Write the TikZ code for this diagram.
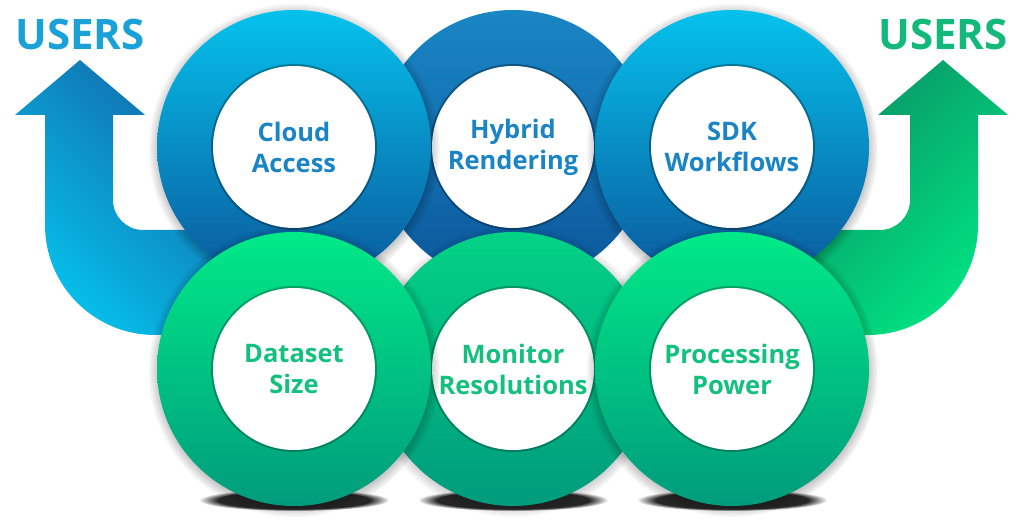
\documentclass[tikz,border=0pt]{standalone}
\usepackage{fontspec}
\setmainfont{Open Sans}
\usetikzlibrary{fadings}

\definecolor{cyanlight}{HTML}{05C2EC}
\definecolor{bluearrow}{HTML}{1460A4}
\definecolor{bluemid}{HTML}{1A86C4}
\definecolor{bluedeep}{HTML}{0B579B}
\definecolor{greenlight}{HTML}{00EA88}
\definecolor{greenmid}{HTML}{03D286}
\definecolor{greendeep}{HTML}{009B7C}
\definecolor{greenarrow}{HTML}{0A8C62}
\definecolor{greenbright}{HTML}{00E482}
\definecolor{bluetext}{HTML}{1A84C4}
\definecolor{greentext}{HTML}{14C07E}
\definecolor{usersblue}{HTML}{1AA2D8}
\definecolor{usersgreen}{HTML}{12B97A}

\begin{document}
\begin{tikzpicture}[x=1pt,y=1pt,
    ringlabel/.style={align=center,font=\bfseries\fontsize{25.5}{31}\selectfont},
    userslabel/.style={anchor=base,font=\bfseries\fontsize{42}{50}\selectfont}]
  \useasboundingbox (0,0) rectangle (1024,532);

  % arrows up to the users
  \shade[top color=bluearrow,bottom color=cyanlight,shading angle=-45]
    (80,472) -- (145,417) -- (113,417) -- (113,332)
    arc[start angle=180,end angle=270,radius=30] -- (260,302) -- (260,197)
    -- (155,197) arc[start angle=270,end angle=180,radius=110]
    -- (45,417) -- (15,417) -- cycle;
  \shade[top color=greenarrow,bottom color=greenbright,shading angle=45]
    (943,472) -- (878,417) -- (910,417) -- (910,332)
    arc[start angle=0,end angle=-90,radius=30] -- (763,302) -- (763,197)
    -- (868,197) arc[start angle=-90,end angle=0,radius=110]
    -- (978,417) -- (1008,417) -- cycle;

  % top row
  \coordinate (cloudc) at (294,385);
  \coordinate (hybridc) at (513,385);
  \coordinate (sdkc) at (732,385);
  \shade[top color=bluemid,bottom color=bluedeep] (hybridc) circle[radius=137];
  \fill[black,opacity=.3] (hybridc) circle[radius=83];
  \fill[white] (hybridc) circle[radius=81];
  \foreach \c in {cloudc,sdkc} {
    \fill[black,opacity=.45,path fading=circle with fuzzy edge 15 percent]
      ([yshift=-2]\c) circle[radius=146];
    \shade[top color=cyanlight,bottom color=bluedeep] (\c) circle[radius=137];
    \fill[black,opacity=.3] (\c) circle[radius=83];
    \fill[white] (\c) circle[radius=81];
  }

  % bottom row
  \coordinate (datasetc) at (294,163);
  \coordinate (monitorc) at (513,163);
  \coordinate (powerc) at (732,163);
  \foreach \c in {datasetc,monitorc,powerc}
    \fill[black,opacity=.85,path fading=circle with fuzzy edge 20 percent]
      ([yshift=-131]\c) ellipse[x radius=95,y radius=11];
  \fill[black,opacity=.35,path fading=circle with fuzzy edge 15 percent]
    ([yshift=-2]monitorc) circle[radius=146];
  \shade[top color=greenmid,bottom color=greendeep] (monitorc) circle[radius=137];
  \fill[black,opacity=.25] (monitorc) circle[radius=83];
  \fill[white] (monitorc) circle[radius=81];
  \foreach \c in {datasetc,powerc} {
    \fill[black,opacity=.45,path fading=circle with fuzzy edge 15 percent]
      ([yshift=-2]\c) circle[radius=146];
    \shade[top color=greenlight,bottom color=greendeep] (\c) circle[radius=137];
    \fill[black,opacity=.25] (\c) circle[radius=83];
    \fill[white] (\c) circle[radius=81];
  }

  % labels
  \node[ringlabel,text=bluetext] (cloud) at (cloudc) {Cloud\\Access};
  \node[ringlabel,text=bluetext] (hybrid) at (hybridc) {Hybrid\\Rendering};
  \node[ringlabel,text=bluetext] (sdk) at (sdkc) {SDK\\Workflows};
  \node[ringlabel,text=greentext] (dataset) at (datasetc) {Dataset\\Size};
  \node[ringlabel,text=greentext] (monitor) at (monitorc) {Monitor\\Resolutions};
  \node[ringlabel,text=greentext] (power) at (powerc) {Processing\\Power};
  \node[userslabel,text=usersblue] (usersleft) at (80,482) {USERS};
  \node[userslabel,text=usersgreen] (usersright) at (943,482) {USERS};
\end{tikzpicture}
\end{document}
